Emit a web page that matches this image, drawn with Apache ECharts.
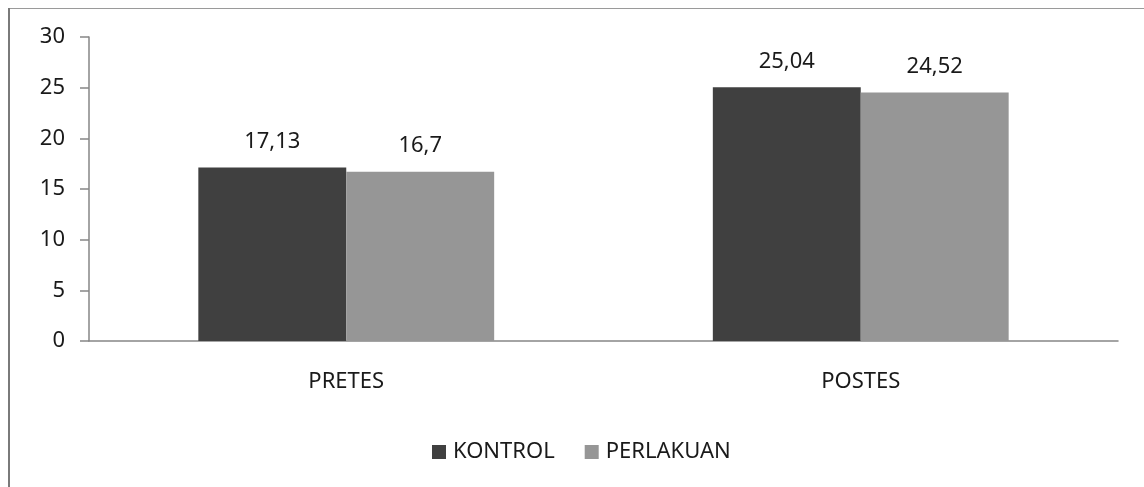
<!DOCTYPE html>
<html><head><meta charset="utf-8">
<style>html,body{margin:0;padding:0;background:#fff}#c{width:1144px;height:487px}</style>
<script src="https://cdn.jsdelivr.net/npm/echarts@6/dist/echarts.min.js"></script>
</head><body><div id="c"></div>
<script>
const categories = ['PRETES', 'POSTES'];
const kontrol = [17.13, 25.04];
const perlakuan = [16.7, 24.52];
const seriesNames = ['KONTROL', 'PERLAKUAN'];
const yTicks = [0, 5, 10, 15, 20, 25, 30];

const font = "'Noto Sans', 'Open Sans', 'DejaVu Sans', sans-serif";
const fs = 22;
const chart = echarts.init(document.getElementById('c'), null, {renderer: 'canvas'});
const fmt = p => String(p.value).replace('.', ',');
chart.setOption({
  animation: false,
  textStyle: {fontFamily: font},
  graphic: [
    {type: 'line', shape: {x1: 8, y1: 8.5, x2: 1144, y2: 8.5}, style: {stroke: '#9a9a9a', lineWidth: 1}},
    {type: 'line', shape: {x1: 9, y1: 8, x2: 9, y2: 487}, style: {stroke: '#7a7a7a', lineWidth: 2}}
  ],
  grid: {left: 89, right: 26, top: 37, bottom: 146, containLabel: false},
  legend: {
    data: seriesNames, top: 436, left: 427,
    itemWidth: 14, itemHeight: 14, itemGap: 30, icon: 'rect',
    textStyle: {fontSize: fs, color: '#1a1a1a', fontFamily: font, padding: [0, 0, 0, 2]}
  },
  xAxis: {
    type: 'category', data: categories,
    axisLine: {lineStyle: {color: '#868686', width: 1.5}},
    axisTick: {length: 7, lineStyle: {color: '#868686', width: 1.5}},
    axisLabel: {fontSize: fs, color: '#1a1a1a', margin: 30, fontFamily: font}
  },
  yAxis: {
    type: 'value', min: yTicks[0], max: yTicks[yTicks.length - 1], interval: 5,
    splitLine: {show: false},
    axisLine: {show: true, lineStyle: {color: '#868686', width: 1.5}},
    axisTick: {show: true, length: 9, lineStyle: {color: '#868686', width: 1.5}},
    axisLabel: {fontSize: fs, color: '#1a1a1a', margin: 24, fontFamily: font}
  },
  series: [
    {name: seriesNames[0], type: 'bar', data: kontrol, barGap: '0%', barCategoryGap: '42.5%',
     itemStyle: {color: '#404040'},
     label: {show: true, position: 'top', distance: 15, fontSize: fs, color: '#1a1a1a', formatter: fmt, fontFamily: font}},
    {name: seriesNames[1], type: 'bar', data: perlakuan, barGap: '0%', barCategoryGap: '42.5%',
     itemStyle: {color: '#969696'},
     label: {show: true, position: 'top', distance: 15, fontSize: fs, color: '#1a1a1a', formatter: fmt, fontFamily: font}}
  ]
});
</script></body></html>
